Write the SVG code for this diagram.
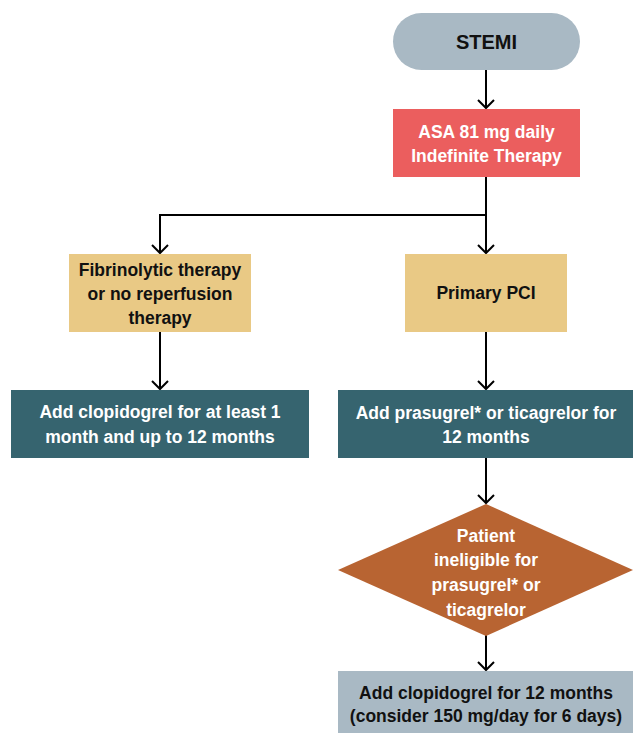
<svg xmlns="http://www.w3.org/2000/svg" width="633" height="733" viewBox="0 0 633 733">
<style>
text{font-family:"Liberation Sans",Arial,sans-serif;font-weight:bold;font-size:17.5px;text-anchor:middle;dominant-baseline:central}
.w{fill:#fff}.k{fill:#111}
.c{fill:none;stroke:#000;stroke-width:2}
</style>
<defs>
<marker id="ah" viewBox="0 0 20 20" refX="18" refY="10" markerWidth="20" markerHeight="20" markerUnits="userSpaceOnUse" orient="auto">
<polyline points="10,2 18,10 10,18" fill="none" stroke="#000" stroke-width="2"/>
</marker>
</defs>
<rect width="633" height="733" fill="#fff"/>
<g id="connectors">
<line class="c" x1="486" y1="70" x2="486" y2="108" marker-end="url(#ah)"/>
<line class="c" x1="486" y1="177" x2="486" y2="253" marker-end="url(#ah)"/>
<polyline class="c" points="486,215 160,215 160,253" marker-end="url(#ah)"/>
<line class="c" x1="160" y1="332" x2="160" y2="389" marker-end="url(#ah)"/>
<line class="c" x1="486" y1="332" x2="486" y2="389" marker-end="url(#ah)"/>
<line class="c" x1="486" y1="458" x2="486" y2="503" marker-end="url(#ah)"/>
<line class="c" x1="486" y1="635" x2="486" y2="670" marker-end="url(#ah)"/>
</g>
<g id="stemi">
<rect x="393" y="13" width="187" height="57" rx="28.5" fill="#A9B9C4"/>
<text class="k" x="486.5" y="42" style="font-size:20px">STEMI</text>
</g>
<g id="asa">
<rect x="393" y="109" width="187" height="68" fill="#EB5E5E"/>
<text class="w" x="486.5" y="132">ASA 81 mg daily</text>
<text class="w" x="486.5" y="156">Indefinite Therapy</text>
</g>
<g id="fibrinolytic">
<rect x="69" y="254" width="182" height="78" fill="#E9C985"/>
<text class="k" x="160" y="270">Fibrinolytic therapy</text>
<text class="k" x="160" y="294">or no reperfusion</text>
<text class="k" x="160" y="318">therapy</text>
</g>
<g id="pci">
<rect x="405" y="254" width="162" height="78" fill="#E9C985"/>
<text class="k" x="486" y="293">Primary PCI</text>
</g>
<g id="clopidogrel1">
<rect x="11" y="390" width="298" height="68" fill="#36646F"/>
<text class="w" x="160" y="412">Add clopidogrel for at least 1</text>
<text class="w" x="160" y="437">month and up to 12 months</text>
</g>
<g id="prasugrel">
<rect x="338" y="390" width="295" height="68" fill="#36646F"/>
<text class="w" x="486" y="413">Add prasugrel* or ticagrelor for</text>
<text class="w" x="486" y="437">12 months</text>
</g>
<g id="ineligible">
<polygon points="486,504 633,570 486,636 338,570" fill="#B86432"/>
<text class="w" x="486" y="536">Patient</text>
<text class="w" x="486" y="560">ineligible for</text>
<text class="w" x="486" y="585">prasugrel* or</text>
<text class="w" x="486" y="610">ticagrelor</text>
</g>
<g id="clopidogrel2">
<rect x="338" y="671" width="295" height="62" fill="#A9B9C4"/>
<text class="k" x="486" y="693">Add clopidogrel for 12 months</text>
<text class="k" x="486" y="716">(consider 150 mg/day for 6 days)</text>
</g>
</svg>
